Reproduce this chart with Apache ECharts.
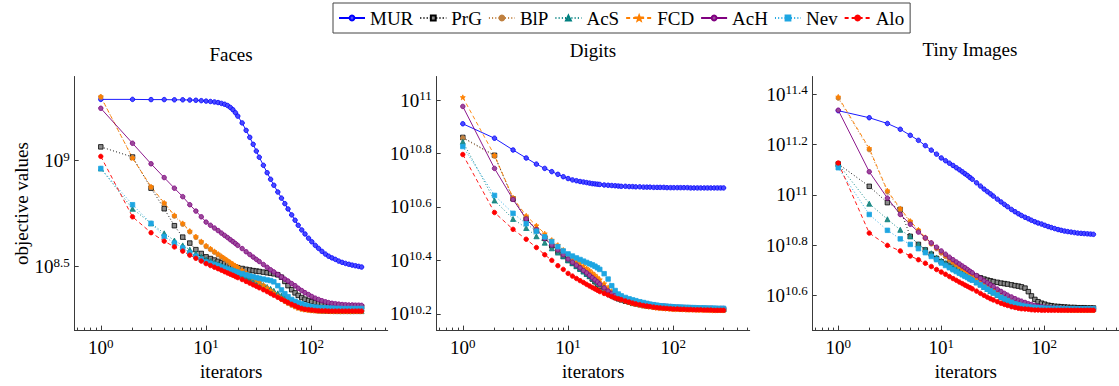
<!DOCTYPE html>
<html>
<head>
<meta charset="utf-8">
<script src="https://cdn.jsdelivr.net/npm/echarts@6/dist/echarts.min.js"></script>
<style>
html, body { margin: 0; padding: 0; background: #fff; }
#main { width: 1119px; height: 386px; }
</style>
</head>
<body>
<div id="main"></div>
<script>
var iters = [1,2,3,4,5,6,7,8,9,10, 11,12,13,14,15,16,17,18,19,20, 22,24,26,28,30,32, 35,38,41, 44,48,52,56,60, 65,70,75,
             81,87,94,101,109,117,126,136,146,157,169,182,196,211,227,244,262,281,300];
var methods = ['MUR', 'PrG', 'BlP', 'AcS', 'FCD', 'AcH', 'Nev', 'Alo'];

// objective values, stored as log10
var facesMUR = [9.289,9.289,9.288,9.288,9.287,9.287,9.286,9.285,9.283,9.281, 9.279,9.277,9.274,9.270,9.266,9.260,9.251,9.240,9.226,9.210, 9.178,9.143,9.110,9.077,9.045,9.016, 8.978,8.943,8.912, 8.884,8.852,8.823,8.797,8.772, 8.744,8.719,8.695,
    8.673,8.654,8.634,8.617,8.600,8.586,8.572,8.559,8.549,8.541,8.534,8.526,8.520,8.515,8.511,8.507,8.504,8.501,8.498];
var facesPrG = [9.065,9.017,8.870,8.773,8.693,8.639,8.611,8.580,8.562,8.546, 8.538,8.531,8.525,8.519,8.514,8.509,8.505,8.501,8.498,8.495, 8.491,8.487,8.484,8.481,8.479,8.477, 8.474,8.471,8.469, 8.466,8.461,8.450,8.430,8.410, 8.391,8.376,8.364,
    8.354,8.346,8.340,8.335,8.331,8.328,8.325,8.323,8.321,8.319,8.318,8.316,8.315,8.314,8.313,8.313,8.312,8.311,8.310];
var facesBlP = [9.300,9.014,8.874,8.797,8.738,8.700,8.664,8.638,8.615,8.595, 8.581,8.568,8.556,8.545,8.535,8.525,8.516,8.508,8.500,8.493, 8.479,8.466,8.454,8.443,8.432,8.422, 8.408,8.395,8.383, 8.371,8.358,8.346,8.336,8.327, 8.318,8.311,8.305,
    8.300,8.297,8.295,8.293,8.292,8.291,8.291,8.290,8.290,8.290,8.290,8.290,8.290,8.290,8.290,8.290,8.290,8.290,8.290];
var facesAcS = [8.963,8.773,8.704,8.657,8.623,8.600,8.580,8.562,8.546,8.534, 8.526,8.518,8.511,8.504,8.497,8.491,8.485,8.480,8.475,8.470, 8.461,8.452,8.444,8.437,8.430,8.423, 8.413,8.404,8.395, 8.386,8.374,8.364,8.355,8.346, 8.336,8.327,8.320,
    8.313,8.307,8.302,8.298,8.296,8.294,8.293,8.292,8.291,8.291,8.290,8.290,8.290,8.290,8.290,8.290,8.290,8.290,8.290];
var facesFCD = [9.302,9.012,8.877,8.801,8.742,8.704,8.668,8.642,8.619,8.599, 8.585,8.572,8.560,8.549,8.539,8.529,8.520,8.512,8.504,8.497, 8.483,8.470,8.458,8.447,8.436,8.426, 8.412,8.399,8.387, 8.375,8.361,8.349,8.339,8.330, 8.320,8.312,8.305,
    8.300,8.297,8.295,8.293,8.292,8.291,8.290,8.290,8.290,8.289,8.289,8.289,8.289,8.289,8.289,8.289,8.289,8.289,8.289];
var facesAcH = [9.247,9.082,8.985,8.920,8.870,8.830,8.792,8.762,8.735,8.710, 8.695,8.682,8.670,8.658,8.647,8.637,8.627,8.618,8.609,8.600, 8.585,8.570,8.557,8.545,8.534,8.524, 8.510,8.497,8.485, 8.475,8.463,8.451,8.441,8.432, 8.420,8.410,8.398,
    8.387,8.377,8.368,8.359,8.351,8.345,8.339,8.334,8.330,8.327,8.325,8.323,8.321,8.320,8.319,8.319,8.318,8.318,8.317];
var facesNev = [8.963,8.792,8.704,8.642,8.611,8.588,8.565,8.549,8.534,8.522, 8.516,8.510,8.504,8.498,8.493,8.488,8.484,8.480,8.476,8.473, 8.467,8.461,8.456,8.452,8.448,8.445, 8.441,8.437,8.434, 8.428,8.410,8.390,8.372,8.358, 8.345,8.336,8.330,
    8.324,8.319,8.314,8.311,8.309,8.307,8.306,8.305,8.304,8.304,8.303,8.303,8.302,8.302,8.302,8.302,8.302,8.302,8.302];
var facesAlo = [9.020,8.735,8.660,8.620,8.593,8.573,8.554,8.539,8.526,8.514, 8.505,8.497,8.490,8.483,8.476,8.470,8.464,8.459,8.453,8.448, 8.439,8.430,8.422,8.414,8.407,8.400, 8.391,8.382,8.373, 8.365,8.355,8.346,8.338,8.330, 8.322,8.315,8.308,
    8.303,8.299,8.297,8.295,8.293,8.292,8.291,8.291,8.290,8.290,8.290,8.290,8.290,8.290,8.290,8.290,8.290,8.290,8.290];

var digitsMUR = [10.911,10.857,10.813,10.783,10.760,10.744,10.732,10.722,10.713,10.706, 10.701,10.698,10.695,10.693,10.691,10.689,10.687,10.686,10.685,10.684, 10.682,10.681,10.680,10.679,10.678,10.677, 10.677,10.676,10.676, 10.675,10.675,10.674,10.674,10.674, 10.673,10.673,10.673,
    10.673,10.672,10.672,10.672,10.672,10.672,10.672,10.672,10.671,10.671,10.671,10.671,10.671,10.671,10.671,10.671,10.671,10.671,10.671];
var digitsPrG = [10.860,10.793,10.630,10.555,10.512,10.482,10.454,10.433,10.415,10.400, 10.389,10.378,10.368,10.359,10.349,10.340,10.330,10.320,10.311,10.302, 10.289,10.277,10.268,10.261,10.256,10.252, 10.247,10.243,10.239, 10.237,10.234,10.231,10.229,10.228, 10.226,10.225,10.224,
    10.223,10.223,10.222,10.221,10.221,10.220,10.220,10.219,10.219,10.219,10.218,10.218,10.218,10.217,10.217,10.217,10.216,10.216,10.216];
var digitsBlP = [10.858,10.790,10.632,10.560,10.518,10.487,10.459,10.438,10.420,10.405, 10.394,10.383,10.373,10.363,10.353,10.344,10.334,10.324,10.315,10.306, 10.292,10.280,10.270,10.263,10.258,10.253, 10.248,10.244,10.240, 10.238,10.235,10.232,10.230,10.228, 10.226,10.225,10.224,
    10.223,10.222,10.221,10.220,10.220,10.219,10.219,10.218,10.218,10.218,10.217,10.217,10.217,10.216,10.216,10.216,10.215,10.215,10.215];
var digitsAcS = [10.844,10.624,10.555,10.521,10.490,10.466,10.445,10.429,10.415,10.400, 10.389,10.378,10.368,10.358,10.349,10.341,10.333,10.325,10.318,10.311, 10.299,10.288,10.279,10.272,10.266,10.261, 10.255,10.250,10.245, 10.242,10.238,10.235,10.233,10.231, 10.229,10.227,10.225,
    10.224,10.223,10.222,10.221,10.221,10.220,10.220,10.219,10.219,10.219,10.218,10.218,10.218,10.218,10.217,10.217,10.217,10.217,10.217];
var digitsFCD = [11.010,10.793,10.634,10.567,10.530,10.500,10.476,10.457,10.439,10.421, 10.409,10.398,10.388,10.379,10.370,10.362,10.353,10.345,10.336,10.328, 10.313,10.299,10.285,10.273,10.264,10.257, 10.250,10.244,10.240, 10.237,10.233,10.230,10.228,10.226, 10.224,10.222,10.221,
    10.220,10.219,10.218,10.217,10.217,10.216,10.216,10.215,10.215,10.215,10.214,10.214,10.214,10.214,10.213,10.213,10.213,10.213,10.213];
var digitsAcH = [10.976,10.744,10.628,10.555,10.515,10.482,10.457,10.439,10.421,10.405, 10.393,10.382,10.372,10.362,10.353,10.344,10.335,10.327,10.319,10.311, 10.297,10.285,10.276,10.269,10.263,10.259, 10.255,10.251,10.248, 10.245,10.242,10.239,10.237,10.235, 10.233,10.231,10.230,
    10.229,10.228,10.227,10.226,10.225,10.224,10.224,10.223,10.223,10.222,10.222,10.221,10.221,10.221,10.221,10.220,10.220,10.220,10.220];
var digitsNev = [10.826,10.643,10.576,10.537,10.509,10.488,10.470,10.451,10.435,10.424, 10.416,10.409,10.403,10.397,10.392,10.387,10.383,10.378,10.372,10.366, 10.350,10.330,10.305,10.287,10.274,10.267, 10.261,10.256,10.252, 10.249,10.245,10.242,10.239,10.236, 10.234,10.232,10.230,
    10.229,10.228,10.227,10.226,10.225,10.225,10.224,10.224,10.223,10.223,10.222,10.222,10.222,10.221,10.221,10.221,10.220,10.220,10.220];
var digitsAlo = [10.796,10.579,10.516,10.479,10.448,10.421,10.400,10.380,10.366,10.351, 10.341,10.332,10.324,10.317,10.310,10.304,10.298,10.293,10.288,10.283, 10.276,10.270,10.264,10.259,10.256,10.253, 10.248,10.244,10.240, 10.237,10.234,10.231,10.229,10.227, 10.225,10.223,10.222,
    10.221,10.220,10.219,10.218,10.218,10.217,10.217,10.216,10.216,10.215,10.215,10.215,10.214,10.214,10.214,10.213,10.213,10.213,10.213];

var tinyMUR = [11.335,11.307,11.284,11.261,11.237,11.217,11.196,11.178,11.162,11.147, 11.136,11.126,11.117,11.108,11.100,11.092,11.084,11.077,11.069,11.062, 11.048,11.035,11.023,11.013,11.004,10.995, 10.983,10.972,10.962, 10.953,10.942,10.933,10.925,10.918, 10.911,10.905,10.899,
    10.893,10.888,10.884,10.879,10.874,10.870,10.866,10.862,10.859,10.856,10.854,10.852,10.850,10.848,10.847,10.846,10.845,10.844,10.843];
var tinyPrG = [11.123,11.034,10.969,10.942,10.835,10.803,10.781,10.764,10.747,10.734, 10.727,10.720,10.714,10.709,10.704,10.699,10.694,10.690,10.686,10.682, 10.676,10.670,10.665,10.661,10.658,10.655, 10.652,10.649,10.647, 10.645,10.642,10.639,10.637,10.634, 10.629,10.615,10.598,
    10.584,10.575,10.569,10.565,10.561,10.559,10.557,10.556,10.555,10.554,10.553,10.552,10.552,10.551,10.551,10.551,10.550,10.550,10.550];
var tinyBlP = [11.385,11.180,11.012,10.941,10.892,10.857,10.827,10.805,10.786,10.769, 10.755,10.742,10.731,10.721,10.712,10.703,10.696,10.689,10.682,10.676, 10.667,10.656,10.645,10.636,10.627,10.619, 10.609,10.600,10.592, 10.585,10.578,10.572,10.567,10.563, 10.559,10.555,10.552,
    10.550,10.548,10.547,10.546,10.545,10.544,10.544,10.543,10.543,10.543,10.542,10.542,10.542,10.542,10.542,10.542,10.542,10.542,10.542];
var tinyAcS = [11.123,10.965,10.903,10.861,10.835,10.803,10.783,10.768,10.751,10.738, 10.728,10.718,10.709,10.701,10.694,10.687,10.681,10.675,10.669,10.664, 10.652,10.643,10.634,10.626,10.618,10.611, 10.602,10.593,10.586, 10.580,10.573,10.567,10.563,10.560, 10.557,10.555,10.553,
    10.551,10.550,10.549,10.548,10.548,10.547,10.547,10.547,10.546,10.546,10.546,10.546,10.546,10.546,10.546,10.546,10.546,10.546,10.546];
var tinyFCD = [11.390,11.185,11.017,10.946,10.896,10.861,10.831,10.809,10.790,10.773, 10.759,10.746,10.735,10.725,10.716,10.707,10.699,10.692,10.686,10.680, 10.669,10.658,10.648,10.639,10.630,10.622, 10.612,10.603,10.595, 10.588,10.581,10.574,10.569,10.565, 10.561,10.557,10.554,
    10.552,10.550,10.548,10.547,10.546,10.545,10.544,10.544,10.543,10.543,10.543,10.542,10.542,10.542,10.542,10.542,10.542,10.542,10.542];
var tinyAcH = [11.337,11.092,10.987,10.922,10.883,10.852,10.829,10.809,10.792,10.777, 10.764,10.752,10.742,10.733,10.725,10.717,10.710,10.703,10.696,10.690, 10.679,10.668,10.658,10.650,10.642,10.635, 10.625,10.616,10.608, 10.601,10.594,10.587,10.581,10.577, 10.572,10.567,10.564,
    10.560,10.557,10.555,10.553,10.551,10.550,10.549,10.549,10.548,10.548,10.547,10.547,10.547,10.547,10.547,10.547,10.547,10.547,10.547];
var tinyNev = [11.108,10.922,10.859,10.825,10.803,10.786,10.770,10.755,10.742,10.729, 10.719,10.710,10.702,10.695,10.688,10.682,10.676,10.671,10.665,10.660, 10.651,10.642,10.633,10.625,10.618,10.611, 10.602,10.593,10.586, 10.580,10.573,10.567,10.563,10.560, 10.557,10.555,10.553,
    10.552,10.551,10.550,10.549,10.549,10.548,10.548,10.548,10.547,10.547,10.547,10.547,10.547,10.547,10.547,10.547,10.547,10.547,10.547];
var tinyAlo = [11.127,10.848,10.799,10.777,10.757,10.742,10.728,10.715,10.703,10.693, 10.684,10.675,10.667,10.660,10.653,10.647,10.641,10.636,10.631,10.626, 10.617,10.608,10.600,10.593,10.587,10.582, 10.575,10.569,10.564, 10.560,10.555,10.552,10.549,10.547, 10.546,10.545,10.543,
    10.542,10.542,10.541,10.541,10.541,10.541,10.541,10.541,10.541,10.541,10.541,10.541,10.541,10.541,10.541,10.541,10.541,10.541,10.541];

// tick labels (exponents of 10)
var xTicks = [0, 1, 2];
var xMinor = [0.6,0.7,0.8,0.9,2,3,4,5,6,7,8,9,20,30,40,50,60,70,80,90,200,300,400,500];
var facesTicks = [8.5, 9];
var digitsTicks = [10.2, 10.4, 10.6, 10.8, 11];
var tinyTicks = [10.6, 10.8, 11, 11.2, 11.4];

var FONT = 'Liberation Serif';
var AXIS = '#3a3a3a';

var star = 'path://M0,-5L1.3,-1.7L4.8,-1.5L2,0.7L3,4.3L0,2.2L-3,4.3L-2,0.7L-4.8,-1.5L-1.3,-1.7Z';
var styles = {
    MUR: { color: '#0000ff', fill: '#4a4aff', dash: 'solid', symbol: 'circle', size: 4.5 },
    PrG: { color: '#000000', fill: '#8c8c8c', dash: [1, 2.2], symbol: 'rect', size: 4.5 },
    BlP: { color: '#bf8040', fill: '#bf8040', dash: [1, 2.2], symbol: 'circle', size: 4.5 },
    AcS: { color: '#008080', fill: '#2f8a80', dash: [1, 2.2], symbol: 'triangle', size: 5 },
    FCD: { color: '#ff8000', fill: '#ff8000', dash: [4, 3], symbol: star, size: 5 },
    AcH: { color: '#800080', fill: '#9a4a9a', dash: 'solid', symbol: 'circle', size: 4.5 },
    Nev: { color: '#1ea6e2', fill: '#1ea6e2', dash: [1, 2.2], symbol: 'rect', size: 4.5 },
    Alo: { color: '#ff0000', fill: '#ff0000', dash: [4, 3], symbol: 'circle', size: 4.5 }
};

var panels = [
    { title: 'Faces', data: [facesMUR, facesPrG, facesBlP, facesAcS, facesFCD, facesAcH, facesNev, facesAlo],
      ticks: facesTicks, yMin: 8.198, yMax: 9.397, left: 74.7, titleX: 231, titleY: 54 },
    { title: 'Digits', data: [digitsMUR, digitsPrG, digitsBlP, digitsAcS, digitsFCD, digitsAcH, digitsNev, digitsAlo],
      ticks: digitsTicks, yMin: 10.137, yMax: 11.088, left: 436.7, titleX: 593, titleY: 50 },
    { title: 'Tiny Images', data: [tinyMUR, tinyPrG, tinyBlP, tinyAcS, tinyFCD, tinyAcH, tinyNev, tinyAlo],
      ticks: tinyTicks, yMin: 10.46, yMax: 11.471, left: 812.7, titleX: 970, titleY: 49 }
];

function powLabel(v) {
    return '{b|10}{s|' + String(Math.round(v * 10) / 10) + '}';
}
var rich = {
    b: { fontFamily: FONT, fontSize: 19, color: '#000' },
    s: { fontFamily: FONT, fontSize: 13, color: '#000', padding: [0, 0, 9, 0] }
};

var X_MIN = -0.248, X_MAX = 2.725;
var grids = [], xAxes = [], yAxes = [], series = [], graphics = [];

panels.forEach(function (p, i) {
    grids.push({ left: p.left, top: 76.5, width: 313, height: 259.5 });

    xAxes.push({
        gridIndex: i, type: 'value', min: X_MIN, max: X_MAX,
        axisLine: { show: true, onZero: false, lineStyle: { color: AXIS, width: 1 } },
        axisTick: { show: true, inside: true, length: 5, customValues: xTicks, lineStyle: { color: AXIS } },
        axisLabel: { customValues: xTicks, formatter: powLabel, rich: rich, margin: 6, fontFamily: FONT },
        splitLine: { show: false },
        name: 'iterators', nameLocation: 'middle', nameGap: 27,
        nameTextStyle: { fontFamily: FONT, fontSize: 19, color: '#000' }
    });
    // minor ticks at 2..9 of every decade
    xAxes.push({
        gridIndex: i, type: 'value', min: X_MIN, max: X_MAX, position: 'bottom',
        axisLine: { show: false, onZero: false },
        axisTick: { show: true, inside: true, length: 3, customValues: xMinor.map(Math.log10), lineStyle: { color: AXIS } },
        axisLabel: { show: false },
        splitLine: { show: false }
    });

    var yAx = {
        gridIndex: i, type: 'value', min: p.yMin, max: p.yMax,
        axisLine: { show: true, onZero: false, lineStyle: { color: AXIS, width: 1 } },
        axisTick: { show: true, inside: true, length: 4, customValues: p.ticks, lineStyle: { color: AXIS } },
        axisLabel: { customValues: p.ticks, formatter: powLabel, rich: rich, margin: 5, fontFamily: FONT },
        splitLine: { show: false }
    };
    if (i === 0) {
        yAx.name = 'objective values';
        yAx.nameLocation = 'middle';
        yAx.nameGap = 44;
        yAx.nameTextStyle = { fontFamily: FONT, fontSize: 19, color: '#000' };
    }
    yAxes.push(yAx);

    methods.forEach(function (m, k) {
        var st = styles[m];
        series.push({
            name: m, type: 'line', xAxisIndex: 2 * i, yAxisIndex: i,
            data: iters.map(function (it, j) { return [Math.log10(it), p.data[k][j]]; }),
            symbol: st.symbol, symbolSize: st.size, showSymbol: true, showAllSymbol: true,
            lineStyle: { color: st.color, width: 0.9, type: st.dash },
            itemStyle: { color: st.fill, borderColor: st.color, borderWidth: 0.8 },
            emphasis: { disabled: true }
        });
    });

    graphics.push({
        type: 'text', x: p.titleX, y: p.titleY,
        style: { text: p.title, fontFamily: FONT, fontSize: 19, fill: '#000', textAlign: 'center', textVerticalAlign: 'middle' }
    });
});

var chart = echarts.init(document.getElementById('main'), null, { renderer: 'svg' });
chart.setOption({
    animation: false,
    backgroundColor: '#fff',
    textStyle: { fontFamily: FONT },
    legend: {
        data: methods, left: 333, top: 3,
        itemWidth: 26, itemHeight: 6, itemGap: 6,
        padding: [5, 6, 5, 5],
        borderColor: '#444', borderWidth: 1,
        selectedMode: false,
        textStyle: { fontFamily: FONT, fontSize: 19, color: '#000', lineHeight: 20 }
    },
    grid: grids,
    xAxis: xAxes,
    yAxis: yAxes,
    series: series,
    graphic: graphics
});
</script>
</body>
</html>
